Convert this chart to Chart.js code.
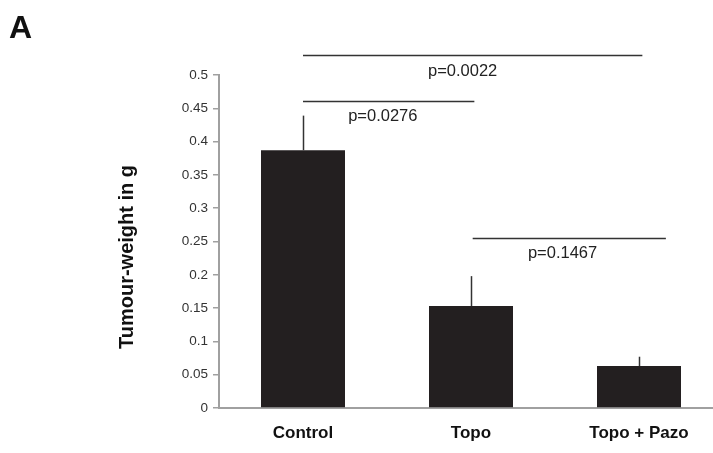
<!DOCTYPE html>
<html>
<head>
<meta charset="utf-8">
<script src="https://cdn.jsdelivr.net/npm/chart.js@4.4.1/dist/chart.umd.min.js"></script>
<style>
  html, body { margin: 0; padding: 0; background: #fff; overflow: hidden; }
  #wrap { width: 713px; height: 453px; overflow: hidden; }
</style>
</head>
<body>
<div id="wrap"><canvas id="canvas1" width="723" height="453"></canvas></div>
<script>
// groups and tumour weight (g), mean with upper error
var categories = ['Control', 'Topo', 'Topo + Pazo'];
var meanWeight = [0.387, 0.153, 0.063];
var errorUp = [0.052, 0.045, 0.014];
var yTicks = [0, 0.05, 0.1, 0.15, 0.2, 0.25, 0.3, 0.35, 0.4, 0.45, 0.5];

// p-value brackets (x in category index, y in g)
var pLabels = ['p=0.0022', 'p=0.0276', 'p=0.1467'];
var pLineFrom = [0, 0, 1.01];
var pLineTo = [2.02, 1.02, 2.16];
var pLineY = [0.5295, 0.461, 0.2555];
var pTextX = [0.95, 0.475, 1.545];
var pTextY = [0.498, 0.431, 0.2255];

var fontFam = '"Liberation Sans", Arial, Helvetica, sans-serif';

var extras = {
    id: 'extras',
    afterDatasetsDraw: function (chart) {
        var ctx = chart.ctx, x = chart.scales.x, y = chart.scales.y;
        ctx.save();
        ctx.strokeStyle = '#333';
        ctx.lineWidth = 1.5;
        for (var i = 0; i < meanWeight.length; i++) {
            var px = Math.round(x.getPixelForValue(i)) + 0.5;
            ctx.beginPath();
            ctx.moveTo(px, y.getPixelForValue(meanWeight[i]));
            ctx.lineTo(px, y.getPixelForValue(meanWeight[i] + errorUp[i]));
            ctx.stroke();
        }
        ctx.restore();
    },
    afterDraw: function (chart) {
        var ctx = chart.ctx, x = chart.scales.x, y = chart.scales.y;
        ctx.save();
        ctx.strokeStyle = '#333';
        ctx.lineWidth = 1.5;
        ctx.fillStyle = '#222';
        ctx.font = '16.5px ' + fontFam;
        ctx.textAlign = 'center';
        ctx.textBaseline = 'alphabetic';
        for (var i = 0; i < pLabels.length; i++) {
            var ly = Math.round(y.getPixelForValue(pLineY[i])) + 0.5;
            ctx.beginPath();
            ctx.moveTo(x.getPixelForValue(pLineFrom[i]), ly);
            ctx.lineTo(x.getPixelForValue(pLineTo[i]), ly);
            ctx.stroke();
            ctx.fillText(pLabels[i], x.getPixelForValue(pTextX[i]), y.getPixelForValue(pTextY[i]));
        }
        // panel letter
        ctx.fillStyle = '#111';
        ctx.textAlign = 'left';
        ctx.font = 'bold 32px ' + fontFam;
        ctx.fillText('A', 9, 38);
        // y axis title
        ctx.translate(127, 257);
        ctx.rotate(-Math.PI / 2);
        ctx.textAlign = 'center';
        ctx.textBaseline = 'middle';
        ctx.font = 'bold 20px ' + fontFam;
        ctx.fillText('Tumour-weight in g', 0, 0);
        ctx.restore();
    }
};

new Chart(document.getElementById('canvas1'), {
    type: 'bar',
    data: {
        labels: categories,
        datasets: [{
            data: meanWeight,
            backgroundColor: '#231f20',
            borderWidth: 0,
            barPercentage: 0.5,
            categoryPercentage: 1.0
        }]
    },
    options: {
        responsive: false,
        animation: false,
        devicePixelRatio: 1,
        layout: { padding: { top: 75, left: 0, right: 0, bottom: 0 } },
        plugins: { legend: { display: false }, tooltip: { enabled: false } },
        scales: {
            x: {
                grid: { display: false },
                border: { color: '#a0a0a0', width: 2 },
                ticks: {
                    color: '#111',
                    padding: 7,
                    font: { family: fontFam, size: 17, weight: 'bold' }
                },
                afterFit: function (s) { s.height = 45; }
            },
            y: {
                min: 0,
                max: 0.5,
                afterBuildTicks: function (s) { s.ticks = yTicks.map(function (v) { return { value: v }; }); },
                grid: { drawOnChartArea: false, drawTicks: true, tickLength: 6, color: '#a0a0a0', lineWidth: 1.5 },
                border: { color: '#a0a0a0', width: 2 },
                ticks: {
                    color: '#333',
                    padding: 5,
                    font: { family: fontFam, size: 13.5 },
                    callback: function (v) { return String(+(+v).toFixed(2)); }
                },
                afterFit: function (s) { s.width = 219; }
            }
        }
    },
    plugins: [extras]
});
</script>
</body>
</html>
